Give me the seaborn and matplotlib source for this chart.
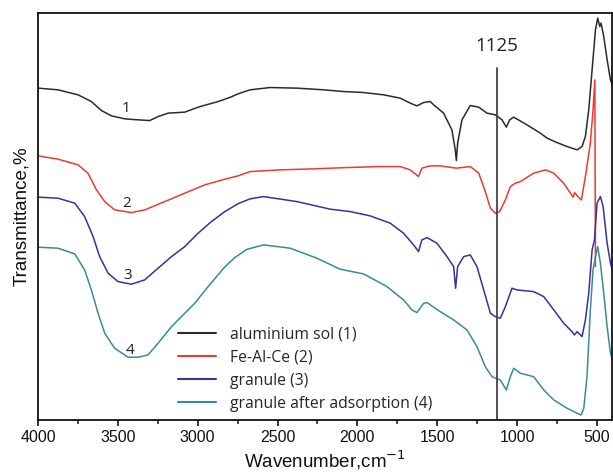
import matplotlib
matplotlib.use("Agg")
import matplotlib.pyplot as plt
import seaborn as sns
import pandas as pd
import numpy as np

# Wavenumbers (cm-1) and transmittance (arbitrary units; axis spans 0-407)
x1 = [4000, 3875, 3749, 3666, 3603, 3540, 3457, 3373, 3300, 3248, 3185, 3081, 2997, 2872, 2797, 2747,
      2672, 2546, 2379, 2212, 2087, 1961, 1836, 1732, 1669, 1627, 1585, 1544, 1522, 1460, 1408, 1387,
      1380, 1372, 1345, 1293, 1240, 1188, 1136, 1094, 1067, 1046, 1021, 938, 854, 812, 750, 687, 624,
      593, 572, 551, 530, 509, 495, 482, 474, 457, 436, 415, 397]
y1 = [331.7, 330, 325, 318.3, 309.3, 304, 301, 300, 299.3, 303.3, 306.7, 307.7, 312.7, 318.3, 322.5,
      326, 330, 332.3, 331.7, 330, 328.3, 327.3, 325, 321.7, 316.7, 314, 317.3, 318.3, 315, 306.7, 290,
      270, 259.3, 276.7, 300, 314.3, 312.7, 306.7, 305, 300, 292.7, 300, 302.7, 295, 286.7, 281.7,
      277.3, 273.3, 270, 273.3, 283.3, 310, 350, 390, 401.7, 393.3, 396.7, 383.3, 360, 340, 331.7]

x2 = [4000, 3875, 3749, 3687, 3634, 3582, 3520, 3415, 3332, 3206, 3081, 2956, 2830, 2747, 2672, 2484,
      2275, 2066, 1857, 1732, 1669, 1617, 1596, 1544, 1481, 1380, 1293, 1240, 1199, 1167, 1136, 1109,
      1073, 1042, 1011, 979, 896, 823, 770, 708, 666, 649, 639, 620, 597, 572, 541, 524, 513, 509]
y2 = [264, 260.7, 255, 246.7, 230, 218.3, 210, 207.3, 210, 218.3, 226.7, 235, 240.7, 244, 248.3, 250,
      251, 252.3, 253.3, 253.3, 250, 243.3, 251.7, 254, 254, 251.7, 253.3, 246.7, 228.3, 211.7, 206.7,
      208.3, 220, 233.3, 236.7, 238.3, 246.7, 250, 246.7, 236.7, 226.7, 222.7, 227.3, 223.3, 220, 243.3,
      276.7, 310, 340, 153.3]

x3 = [4000, 3875, 3770, 3708, 3655, 3614, 3561, 3499, 3415, 3332, 3248, 3164, 3081, 2997, 2914, 2830,
      2747, 2672, 2588, 2379, 2170, 2045, 1920, 1794, 1711, 1648, 1617, 1596, 1564, 1502, 1439, 1397,
      1385, 1372, 1334, 1293, 1251, 1209, 1167, 1136, 1105, 1073, 1032, 1000, 896, 833, 770, 708, 656,
      641, 624, 593, 572, 551, 530, 515, 499, 478, 461, 436, 415, 397]
y3 = [222.7, 221.7, 216.7, 203.3, 183.3, 163.3, 146.7, 138.3, 135.7, 140, 151.7, 163.3, 173.3, 186.7,
      198.3, 208.3, 216.2, 221, 223.3, 218.3, 210.7, 208.3, 204, 196.7, 186.7, 175, 168.3, 180, 182.3,
      176.7, 163.3, 153.3, 131.7, 153.3, 163.3, 165, 153.3, 130, 106.7, 103.3, 101.7, 113.3, 131.7, 130,
      128.3, 123.3, 110, 96.7, 88.3, 85, 88.3, 83.3, 100, 126.7, 170, 180, 216.7, 223.3, 213.3, 176.7,
      156.7, 146.7]

x4 = [4000, 3875, 3770, 3708, 3666, 3624, 3582, 3520, 3436, 3373, 3311, 3248, 3164, 3102, 3018, 2935,
      2830, 2770, 2693, 2588, 2421, 2254, 2108, 1961, 1815, 1711, 1658, 1627, 1585, 1564, 1481, 1397,
      1314, 1251, 1199, 1157, 1105, 1067, 1042, 1021, 979, 896, 833, 770, 687, 624, 599, 582, 562, 541,
      524, 509, 495, 478, 457, 436, 415, 397]
y4 = [172.7, 171.7, 166, 150, 130, 106.7, 86.7, 71.7, 62.7, 62.7, 65, 76.7, 93.3, 103.3, 116.7, 133.3,
      153, 162, 170.5, 175, 171.7, 161.7, 150.7, 146, 133.3, 120, 110, 107.3, 116.7, 117.3, 108.3, 100,
      90, 73.3, 53.3, 43.3, 40, 30, 43.3, 51.7, 46.7, 43.3, 30, 20, 11.7, 6.7, 5, 11.7, 43.3, 110, 150,
      163.3, 173.3, 156.7, 126.7, 93.3, 66.7, 56.7]

labels = ["aluminium sol (1)", "Fe-Al-Ce (2)", "granule (3)", "granule after adsorption (4)"]
colors = ["#2b2b2b", "#ee3b2b", "#3b2fa0", "#3a8c93"]
curve_ids = ["1", "2", "3", "4"]
curve_label_x = [3446, 3446, 3436, 3425]
curve_label_y = [311, 216, 144, 69]
marker_wavenumber = 1125

frames = []
for xs, ys, lab in zip([x1, x2, x3, x4], [y1, y2, y3, y4], labels):
    frames.append(pd.DataFrame({"wavenumber": xs, "T": ys, "sample": lab}))
df = pd.concat(frames, ignore_index=True)

sns.set_theme(style="white")
plt.rcParams['font.family'] = ['Liberation Sans', 'DejaVu Sans']

fig = plt.figure(figsize=(6.13, 4.74), dpi=100)
ax = fig.add_axes([0.062, 0.114, 0.937, 0.859])

sns.lineplot(data=df, x="wavenumber", y="T", hue="sample", hue_order=labels,
             palette=colors, sort=False, estimator=None, linewidth=1.1, ax=ax)

ax.set_xlim(4000, 403)
ax.set_ylim(0, 407)
ax.axvline(marker_wavenumber, ymin=0, ymax=0.865, color="#444444", linewidth=1.3)
ax.text(marker_wavenumber, 374, str(marker_wavenumber), ha="center", va="center",
        fontsize=13.5, family=["Open Sans", "DejaVu Sans"], color="#222222")

for cid, cx, cy in zip(curve_ids, curve_label_x, curve_label_y):
    ax.text(cx, cy, cid, ha="center", va="center", fontsize=11,
            family=["Open Sans", "DejaVu Sans"], color="#222222")

ax.set_xticks([4000, 3500, 3000, 2500, 2000, 1500, 1000, 500])
ax.set_xticks(np.arange(3750, 400, -500), minor=True)
ax.set_yticks([])
ax.tick_params(axis="x", which="major", direction="out", length=4, width=1.2,
               labelsize=11.5, bottom=True, colors="#111111")
ax.tick_params(axis="x", which="minor", direction="out", length=3, width=1.2, bottom=True)
for sp in ax.spines.values():
    sp.set_color("#111111")
    sp.set_linewidth(1.3)

ax.set_xlabel("Wavenumber,cm$^{-1}$", fontsize=13.5, labelpad=2, color="#111111")
ax.set_ylabel("Transmittance,%", fontsize=13.5, labelpad=6, color="#111111")

leg = ax.legend(loc="lower left", bbox_to_anchor=(0.219, -0.015), frameon=False,
                handlelength=2.4, handletextpad=0.9, labelspacing=0.45,
                prop={"family": ["Open Sans", "DejaVu Sans"], "size": 11.3})
for line in leg.get_lines():
    line.set_linewidth(1.5)

fig.savefig("out.png", dpi=100)
